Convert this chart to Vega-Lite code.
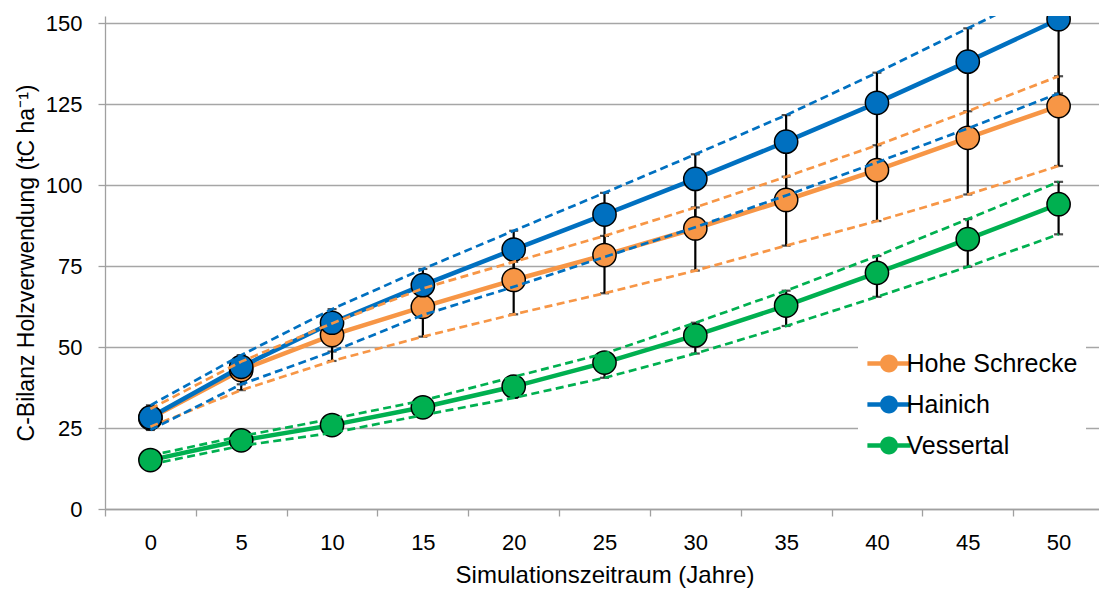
{
  "$schema": "https://vega.github.io/schema/vega-lite/v6.json",
  "width": 994,
  "height": 493,
  "autosize": {"type": "none"},
  "padding": {"left": 105, "top": 16, "right": 0, "bottom": 83},
  "background": "white",
  "config": {
    "font": "Liberation Sans",
    "view": {"stroke": null},
    "axis": {
      "labelColor": "black",
      "titleColor": "black",
      "labelFont": "Liberation Sans",
      "titleFont": "Liberation Sans",
      "titleFontWeight": "normal",
      "domainColor": "#A0A0A0",
      "tickColor": "#A0A0A0",
      "gridColor": "#A6A6A6",
      "domainWidth": 1.3,
      "tickWidth": 1.3,
      "gridWidth": 1.3
    }
  },
  "data": {
    "values": [
      {"year": 0, "series": "Hohe Schrecke", "mean": 28.0, "lo": 25.4, "hi": 30.9},
      {"year": 5, "series": "Hohe Schrecke", "mean": 42.9, "lo": 36.7, "hi": 45.5},
      {"year": 10, "series": "Hohe Schrecke", "mean": 53.7, "lo": 45.7, "hi": 57.3},
      {"year": 15, "series": "Hohe Schrecke", "mean": 62.4, "lo": 53.2, "hi": 68.1},
      {"year": 20, "series": "Hohe Schrecke", "mean": 70.7, "lo": 60.1, "hi": 76.3},
      {"year": 25, "series": "Hohe Schrecke", "mean": 78.4, "lo": 66.6, "hi": 84.3},
      {"year": 30, "series": "Hohe Schrecke", "mean": 86.6, "lo": 73.6, "hi": 93.1},
      {"year": 35, "series": "Hohe Schrecke", "mean": 95.4, "lo": 81.3, "hi": 102.6},
      {"year": 40, "series": "Hohe Schrecke", "mean": 104.6, "lo": 88.9, "hi": 112.3},
      {"year": 45, "series": "Hohe Schrecke", "mean": 114.6, "lo": 97.1, "hi": 122.8},
      {"year": 50, "series": "Hohe Schrecke", "mean": 124.4, "lo": 105.9, "hi": 133.6},
      {"year": 0, "series": "Hainich", "mean": 28.3, "lo": 24.4, "hi": 32.0},
      {"year": 5, "series": "Hainich", "mean": 43.9, "lo": 38.5, "hi": 47.5},
      {"year": 10, "series": "Hainich", "mean": 57.5, "lo": 48.6, "hi": 61.7},
      {"year": 15, "series": "Hainich", "mean": 69.1, "lo": 59.9, "hi": 74.1},
      {"year": 20, "series": "Hainich", "mean": 80.1, "lo": 68.6, "hi": 85.9},
      {"year": 25, "series": "Hainich", "mean": 90.9, "lo": 77.8, "hi": 97.6},
      {"year": 30, "series": "Hainich", "mean": 101.9, "lo": 87.0, "hi": 109.5},
      {"year": 35, "series": "Hainich", "mean": 113.4, "lo": 96.8, "hi": 121.6},
      {"year": 40, "series": "Hainich", "mean": 125.4, "lo": 107.0, "hi": 134.7},
      {"year": 45, "series": "Hainich", "mean": 138.1, "lo": 117.5, "hi": 148.4},
      {"year": 50, "series": "Hainich", "mean": 151.2, "lo": 128.3, "hi": 162.0},
      {"year": 0, "series": "Vessertal", "mean": 15.1, "lo": 13.8, "hi": 16.5},
      {"year": 5, "series": "Vessertal", "mean": 21.2, "lo": 19.5, "hi": 22.5},
      {"year": 10, "series": "Vessertal", "mean": 25.9, "lo": 23.5, "hi": 27.8},
      {"year": 15, "series": "Vessertal", "mean": 31.4, "lo": 29.0, "hi": 33.5},
      {"year": 20, "series": "Vessertal", "mean": 37.8, "lo": 34.3, "hi": 40.8},
      {"year": 25, "series": "Vessertal", "mean": 45.2, "lo": 40.5, "hi": 48.0},
      {"year": 30, "series": "Vessertal", "mean": 53.6, "lo": 48.0, "hi": 57.5},
      {"year": 35, "series": "Vessertal", "mean": 62.8, "lo": 56.5, "hi": 67.4},
      {"year": 40, "series": "Vessertal", "mean": 72.9, "lo": 65.5, "hi": 78.1},
      {"year": 45, "series": "Vessertal", "mean": 83.3, "lo": 74.8, "hi": 89.5},
      {"year": 50, "series": "Vessertal", "mean": 94.1, "lo": 84.8, "hi": 101.0}
    ]
  },
  "encoding": {
    "x": {
      "field": "year",
      "type": "ordinal",
      "scale": {"type": "band", "paddingInner": 0, "paddingOuter": 0, "range": [0, 999]},
      "axis": {
        "title": "Simulationszeitraum (Jahre)",
        "labelAngle": 0,
        "tickBand": "extent",
        "grid": false,
        "tickSize": 7,
        "labelFontSize": 22,
        "labelPadding": 16,
        "titleFontSize": 24,
        "titlePadding": 10
      }
    }
  },
  "layer": [
    {
      "mark": {"type": "rule", "color": "black", "strokeWidth": 2.2, "clip": true},
      "encoding": {
        "y": {
          "field": "lo",
          "type": "quantitative",
          "scale": {"domain": [0, 152.2], "nice": false, "zero": true},
          "axis": {
            "title": "C-Bilanz Holzverwendung (tC ha⁻¹)",
            "values": [0, 25, 50, 75, 100, 125, 150],
            "tickSize": 7,
            "labelFontSize": 22,
            "labelPadding": 16,
            "titleFontSize": 23,
            "titlePadding": 7,
            "grid": true
          }
        },
        "y2": {"field": "hi"}
      }
    },
    {
      "mark": {"type": "tick", "color": "black", "size": 9, "thickness": 2.2, "clip": true},
      "encoding": {"y": {"field": "hi", "type": "quantitative"}}
    },
    {
      "mark": {"type": "tick", "color": "black", "size": 9, "thickness": 2.2, "clip": true},
      "encoding": {"y": {"field": "lo", "type": "quantitative"}}
    },
    {
      "mark": {"type": "line", "strokeWidth": 4.5, "clip": true},
      "encoding": {
        "y": {"field": "mean", "type": "quantitative"},
        "color": {
          "field": "series",
          "type": "nominal",
          "scale": {"domain": ["Hohe Schrecke", "Hainich", "Vessertal"], "range": ["#F79646", "#0070C0", "#00B050"]},
          "legend": {
            "title": null,
            "orient": "none",
            "legendX": 753,
            "legendY": 327,
            "padding": 8,
            "fillColor": "white",
            "symbolType": "M-4.8,-0.5 L4.8,-0.5 L4.8,0.5 L-4.8,0.5 Z M2,0 A2,2 0 1,1 -2,0 A2,2 0 1,1 2,0 Z",
            "symbolSize": 81,
            "symbolStrokeWidth": 0,
            "symbolOpacity": 1,
            "symbolOffset": 10.5,
            "labelOffset": 5,
            "labelFontSize": 25,
            "labelColor": "black",
            "labelLimit": 0,
            "rowPadding": 15
          }
        }
      }
    },
    {
      "mark": {"type": "point", "filled": true, "opacity": 1, "stroke": "black", "strokeWidth": 1.5, "size": 540, "clip": true},
      "encoding": {
        "y": {"field": "mean", "type": "quantitative"},
        "color": {"field": "series", "type": "nominal"}
      }
    },
    {
      "mark": {"type": "line", "strokeWidth": 2.7, "strokeDash": [8, 4.5], "clip": true},
      "encoding": {
        "y": {"field": "lo", "type": "quantitative"},
        "color": {"field": "series", "type": "nominal"}
      }
    },
    {
      "mark": {"type": "line", "strokeWidth": 2.7, "strokeDash": [8, 4.5], "clip": true},
      "encoding": {
        "y": {"field": "hi", "type": "quantitative"},
        "color": {"field": "series", "type": "nominal"}
      }
    }
  ]
}
